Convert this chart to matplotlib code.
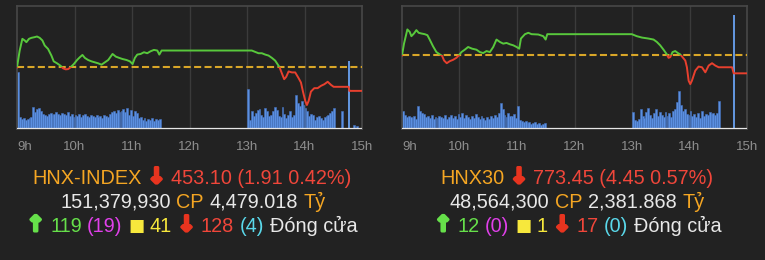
import numpy as np
import matplotlib.pyplot as plt
import matplotlib.patheffects as pe
from matplotlib.patches import Rectangle

plt.rcParams['font.family'] = ['Liberation Sans', 'DejaVu Sans']

# colours
BG = '#222222'
GRID = '#3b3b3b'
GREEN = '#58c83c'
RED = '#e8402e'
DASH = '#d9a628'
BAR = '#5b8fe0'

# ---- HNX-INDEX: minutes after 9:00 / index value
hnx_min = [0, 2.8, 5.6, 8.0, 9.8, 12.5, 15.0, 18.5, 20.9, 23.7, 26.5, 28.9, 32.4,
           35.9, 38.3, 41.8, 45.3, 48.1, 50.9, 53.3, 55.8, 59.3, 62.7, 65.5, 68.3,
           70.8, 74.2, 77.7, 81.2, 84.7, 88.2, 91.7, 95.2, 99.7, 103.2, 106.7,
           110.1, 114.3, 117.8, 120.6, 123.0, 125.5, 129.0, 132.5, 135.9, 139.4,
           142.9, 146.4, 148.5, 150.9, 245.0, 248.5, 252.0, 255.5, 259.0, 262.5,
           266.0, 269.4, 272.2, 274.0, 276.4, 278.8, 280.9, 283.4, 286.9, 290.3,
           293.8, 296.3, 298.4, 300.8, 302.5, 304.3, 306.7, 310.2, 313.7, 317.2,
           320.7, 324.2, 327.6, 330.4, 346.1, 346.8, 360]
hnx_val = [455.01, 456.38, 457.33, 457.20, 457.06, 457.33, 457.41, 457.47, 457.52,
           457.41, 457.20, 456.79, 456.51, 455.97, 455.50, 455.34, 455.15, 454.93,
           454.85, 454.87, 455.01, 455.28, 455.61, 455.83, 456.02, 455.78, 455.61,
           455.50, 455.42, 455.34, 455.23, 455.42, 455.61, 456.10, 455.88, 455.78,
           455.69, 455.61, 455.50, 455.28, 455.78, 456.05, 456.10, 456.24, 456.16,
           456.32, 456.43, 456.38, 456.05, 456.38, 456.38, 456.27, 456.16, 456.16,
           456.05, 455.97, 455.78, 455.56, 455.23, 455.01, 454.52, 454.05, 454.24,
           454.68, 454.60, 454.60, 454.14, 453.78, 453.04, 452.28, 451.95, 452.28,
           453.04, 453.32, 453.32, 453.51, 453.64, 453.84, 453.59, 453.43, 453.43,
           453.10, 453.10]
hnx_ref = 455.01

# ---- HNX30
hnx30_min = [0, 2.1, 5.6, 8.0, 9.8, 12.5, 15.0, 17.4, 20.2, 23.7, 26.5, 28.9, 32.4,
             35.9, 39.4, 41.8, 43.9, 46.7, 49.8, 53.3, 56.8, 59.3, 62.0, 65.5, 69.0,
             73.2, 77.7, 81.2, 84.7, 88.2, 91.7, 95.2, 98.6, 102.1, 105.6, 109.1,
             112.6, 116.1, 119.6, 122.3, 124.1, 128.3, 131.8, 135.2, 142.2, 147.4,
             149.9, 151.6, 239.8, 245.0, 250.3, 257.2, 262.5, 265.9, 269.4, 272.9,
             276.4, 278.1, 279.9, 282.3, 285.1, 287.9, 290.3, 292.1, 295.6, 297.3,
             299.1, 300.8, 302.5, 306.0, 309.5, 313.0, 316.5, 320.0, 323.5, 326.9,
             330.4, 344.4, 346.1, 360]
hnx30_val = [777.90, 780.84, 784.37, 783.78, 782.69, 783.36, 784.20, 783.53, 783.36,
             783.19, 782.94, 781.85, 780.17, 778.74, 778.15, 777.82, 776.64, 775.97,
             776.47, 776.81, 777.31, 777.90, 778.74, 779.33, 780.00, 779.58, 779.33,
             778.74, 778.49, 778.99, 778.74, 780.00, 781.85, 781.26, 780.84, 781.01,
             780.67, 780.42, 780.00, 779.58, 782.10, 783.19, 783.53, 783.19, 783.11,
             782.69, 781.85, 783.19, 783.19, 782.69, 782.35, 782.10, 781.85, 781.26,
             780.42, 779.33, 778.15, 777.31, 777.48, 778.74, 778.99, 778.49, 778.15,
             777.65, 776.64, 774.96, 771.60, 770.76, 771.60, 774.12, 775.13, 774.96,
             773.70, 775.38, 775.97, 775.38, 774.96, 774.96, 773.45, 773.45]
hnx30_ref = 777.90

# ---- volume, 2-minute bins (morning from 9:00, afternoon from 13:00)
hnx_vol_am = [57, 12, 10, 11, 9, 10, 11, 12, 22, 17, 20, 21, 18, 15, 14, 13, 15, 16,
              14, 15, 17, 15, 14, 16, 15, 14, 17, 13, 15, 12, 14, 13, 15, 12, 14, 15,
              13, 12, 14, 13, 12, 14, 12, 13, 11, 14, 13, 12, 15, 17, 18, 16, 19, 17,
              18, 20, 17, 21, 14, 19, 13, 18, 16, 11, 12, 9, 11, 8, 10, 9, 11, 8, 10,
              9, 10]
hnx_vol_pm = [40, 9, 18, 13, 16, 19, 20, 14, 12, 21, 18, 13, 14, 18, 22, 19, 13, 12,
              22, 15, 11, 14, 18, 12, 14, 34, 26, 23, 28, 24, 21, 18, 13, 15, 14, 9,
              12, 13, 11, 9, 12, 13, 14, 16, 18, 21]
hnx_late_min = [339, 352, 355]
hnx_late_vol = [18, 4, 3]
hnx_atc_min, hnx_atc_vol = 346, 68

hnx30_vol_am = [18, 14, 12, 13, 12, 11, 13, 10, 23, 18, 16, 15, 12, 13, 11, 14, 10,
                12, 11, 13, 12, 11, 14, 10, 12, 14, 11, 13, 10, 15, 12, 16, 11, 14, 12,
                10, 13, 11, 15, 12, 10, 13, 11, 9, 12, 10, 13, 11, 14, 12, 16, 26, 20,
                14, 12, 16, 13, 13, 15, 11, 23, 9, 8, 7, 8, 6, 7, 5, 6, 7, 5, 6, 4, 5, 6]
hnx30_vol_pm = [17, 9, 8, 10, 20, 13, 11, 17, 21, 14, 11, 16, 20, 13, 17, 14, 12, 17,
                13, 16, 12, 18, 20, 27, 38, 24, 18, 20, 15, 14, 18, 13, 15, 12, 16, 11,
                18, 13, 15, 14, 17, 15, 16, 14, 16, 28]
hnx30_late_min = []
hnx30_late_vol = []
hnx30_atc_min, hnx30_atc_vol = 346, 114

hour_labels = ['9h', '10h', '11h', '12h', '13h', '14h', '15h']

W, H = 765, 260
fig = plt.figure(figsize=(W / 100, H / 100), dpi=100, facecolor=BG)


def draw_panel(x0, t_min, val, ref, ylim, vol_am, vol_pm, late_min, late_vol,
               atc_min, atc_vol):
    ax = fig.add_axes([x0 / W, 1 - 129 / H, 345 / W, 123 / H])
    ax.set_facecolor(BG)
    ax.set_xlim(9, 15)
    ax.set_ylim(0, 123)
    for h in range(10, 15):
        ax.axvline(h, color=GRID, lw=1, zorder=0)
    am_x = 9 + (np.arange(len(vol_am)) * 2 + 1) / 60
    pm_x = 13 + (np.arange(len(vol_pm)) * 2 + 1) / 60
    bx = np.concatenate([am_x, pm_x, 9 + np.array(late_min, dtype=float) / 60])
    bv = np.concatenate([vol_am, vol_pm, late_vol])
    ax.bar(bx, bv, width=2 / 60, color=BAR, edgecolor='#4674c0', lw=0.4, zorder=2)
    ax.vlines(9 + atc_min / 60, 0, atc_vol, color='#6aa2f2', lw=1.3, zorder=3)
    ax.axhline(0, color='#e6e6e6', lw=1.6, zorder=6)
    for s in ax.spines.values():
        s.set_color('#484848')
        s.set_linewidth(1.2)
    ax.set_yticks([])
    ax.set_xticks(range(9, 16))
    ax.set_xticklabels(hour_labels, color='#8e8e8e', fontsize=9.5)
    ax.tick_params(axis='x', length=0, pad=9)
    ax.get_xticklabels()[0].set_horizontalalignment('left')

    pa = ax.twinx()
    pa.set_xlim(9, 15)
    pa.set_ylim(ylim)
    pa.axis('off')
    pa.axhline(ref, color=DASH, lw=1.5, ls=(0, (3.4, 1.6)), zorder=3)
    x = 9 + np.array(t_min) / 60
    up, = pa.plot(x, val, color=GREEN, lw=1.4, zorder=4)
    dn, = pa.plot(x, val, color=RED, lw=1.4, zorder=4)
    up.set_clip_path(Rectangle((9, ref), 6, ylim[1] - ref, transform=pa.transData))
    dn.set_clip_path(Rectangle((9, ylim[0]), 6, ref - ylim[0], transform=pa.transData))


draw_panel(17, hnx_min, hnx_val, hnx_ref, (450.0, 460.0), hnx_vol_am, hnx_vol_pm,
           hnx_late_min, hnx_late_vol, hnx_atc_min, hnx_atc_vol)
draw_panel(402, hnx30_min, hnx30_val, hnx30_ref, (759.6, 790.2), hnx30_vol_am,
           hnx30_vol_pm, hnx30_late_min, hnx30_late_vol, hnx30_atc_min, hnx30_atc_vol)

ORANGE = '#f5a623'
TRED = '#f0463a'
AR_RED = '#e8341f'
WHITE = '#e8e8e8'
TGREEN = '#66e04a'
MAGENTA = '#e040ea'
YELLOW = '#f7e83c'
CYAN = '#5ad8ea'
FS = 14.3


def colored_line(cx, base_y, parts, size=FS):
    r = fig.canvas.get_renderer()
    probe1 = fig.text(0, 0, 'a a', fontsize=size)
    probe2 = fig.text(0, 0, 'aa', fontsize=size)
    gap = probe1.get_window_extent(r).width - probe2.get_window_extent(r).width
    probe1.remove()
    probe2.remove()
    texts = []
    for s, c, kind in parts:
        if kind == 'arrow':
            t = fig.text(0, 1 - (base_y - 1) / H, s, color=c, fontsize=size + 1,
                         va='baseline', ha='left', fontweight='bold',
                         family='DejaVu Sans',
                         path_effects=[pe.withStroke(linewidth=2.2, foreground=c)])
        elif kind == 'box':
            t = fig.text(0, 1 - (base_y - 1) / H, s, color=c, fontsize=size - 2,
                         va='baseline', ha='left', family='DejaVu Sans')
        else:
            t = fig.text(0, 1 - base_y / H, s, color=c, fontsize=size,
                         va='baseline', ha='left')
        texts.append(t)
    widths = [t.get_window_extent(r).width for t in texts]
    x = cx - (sum(widths) + gap * (len(texts) - 1)) / 2
    for t, w in zip(texts, widths):
        t.set_x(x / W)
        x += w + gap


colored_line(192, 184, [('HNX-INDEX', ORANGE, ''), ('↓', AR_RED, 'arrow'),
                        ('453.10 (1.91 0.42%)', TRED, '')])
colored_line(193, 208, [('151,379,930', WHITE, ''), ('CP', ORANGE, ''),
                        ('4,479.018', WHITE, ''), ('Tỷ', ORANGE, '')])
colored_line(192, 232, [('↑', TGREEN, 'arrow'), ('119', TGREEN, ''),
                        ('(19)', MAGENTA, ''), ('■', YELLOW, 'box'),
                        ('41', YELLOW, ''), ('↓', AR_RED, 'arrow'),
                        ('128', TRED, ''), ('(4)', CYAN, ''),
                        ('Đóng cửa', WHITE, '')])

colored_line(577, 184, [('HNX30', ORANGE, ''), ('↓', AR_RED, 'arrow'),
                        ('773.45 (4.45 0.57%)', TRED, '')])
colored_line(577, 208, [('48,564,300', WHITE, ''), ('CP', ORANGE, ''),
                        ('2,381.868', WHITE, ''), ('Tỷ', ORANGE, '')])
colored_line(578, 232, [('↑', TGREEN, 'arrow'), ('12', TGREEN, ''),
                        ('(0)', MAGENTA, ''), ('■', YELLOW, 'box'),
                        ('1', YELLOW, ''), ('↓', AR_RED, 'arrow'),
                        ('17', TRED, ''), ('(0)', CYAN, ''),
                        ('Đóng cửa', WHITE, '')])

fig.savefig('out.png', dpi=100, facecolor=BG)
